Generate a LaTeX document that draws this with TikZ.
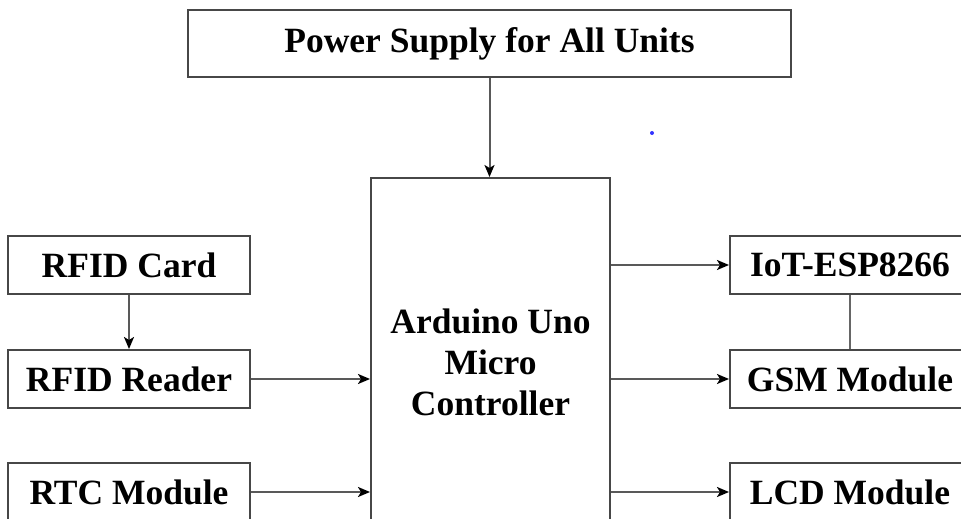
\documentclass[tikz,border=0pt]{standalone}
\usepackage{fontspec}
\setmainfont{Liberation Serif}
\usetikzlibrary{arrows.meta}
\begin{document}
\begin{tikzpicture}[x=1pt,y=-1pt,
  blk/.style={draw=black!72,line width=2pt,fill=white,inner sep=0pt,
    font=\fontsize{35.5}{41}\selectfont\bfseries},
  conn/.style={draw=black!65,line width=2pt,
    -{Stealth[length=12pt,width=10pt,inset=3pt,fill=black,color=black]}},
  plain/.style={draw=black!60,line width=2pt}]
\useasboundingbox (0,0) rectangle (961,519);
\clip (0,0) rectangle (961,519);
\fill[white] (0,0) rectangle (961,519);
% nodes
\node[blk,minimum width=603pt,minimum height=67pt] (pwr) at (489.5,43.5) {Power Supply for All Units};
\node[blk,minimum width=239pt,minimum height=400pt] (ard) at (490.5,378) {};
\node[font=\fontsize{35.5}{41}\selectfont\bfseries,align=center] (ardtxt) at (490.5,362) {Arduino Uno\\Micro\\Controller};
\node[blk,minimum width=242pt,minimum height=58pt] (card) at (129,265) {RFID Card};
\node[blk,minimum width=242pt,minimum height=58pt] (reader) at (129,379) {RFID Reader};
\node[blk,minimum width=242pt,minimum height=58pt] (rtc) at (129,492) {RTC Module};
\node[blk,minimum width=240pt,minimum height=58pt] (iot) at (850,265) {IoT-ESP8266};
\node[blk,minimum width=240pt,minimum height=58pt] (gsm) at (850,379) {GSM Module};
\node[blk,minimum width=240pt,minimum height=58pt] (lcd) at (850,492) {LCD Module};
% connectors
\draw[conn] (pwr.south) -- (pwr.south |- ard.north);
\draw[conn] (card.south) -- (reader.north);
\draw[conn] (reader.east) -- (reader.east -| ard.west);
\draw[conn] (rtc.east) -- (rtc.east -| ard.west);
\draw[conn] (iot.west -| ard.east) -- (iot.west);
\draw[conn] (gsm.west -| ard.east) -- (gsm.west);
\draw[conn] (lcd.west -| ard.east) -- (lcd.west);
\draw[plain] (iot.south) -- (gsm.north);
% stray dot
\fill[blue!80] (652,133) circle (2pt);
\end{tikzpicture}
\end{document}
